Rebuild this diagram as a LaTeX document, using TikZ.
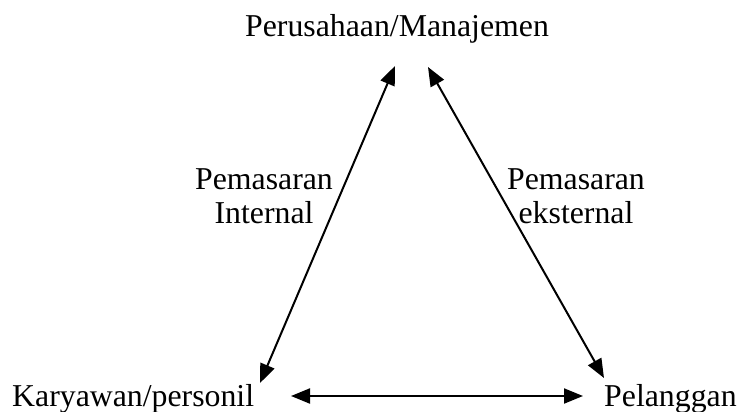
\documentclass[tikz,border=0pt]{standalone}
\usepackage{fontspec}
\setmainfont{Liberation Serif}
\usetikzlibrary{arrows.meta}
\begin{document}
\begin{tikzpicture}[x=1pt,y=-1pt,
  lbl/.style={font=\fontsize{31.8}{34}\selectfont, inner sep=0pt, anchor=base west},
  arr/.style={line width=2pt, {Triangle[length=19pt,width=15pt]}-{Triangle[length=19pt,width=15pt]}}]
\useasboundingbox (0,0) rectangle (742,412);
\node[lbl, anchor=base] (top) at (397,37) {Perusahaan/Manajemen};
\node[lbl] (left) at (12,406) {Karyawan/personil};
\node[lbl] (right) at (604,406) {Pelanggan};
\node[lbl, anchor=base] (li1) at (264,189) {Pemasaran};
\node[lbl, anchor=base] (li2) at (264,223) {Internal};
\node[lbl, anchor=base] (re1) at (576,189) {Pemasaran};
\node[lbl, anchor=base] (re2) at (576,223) {eksternal};
\coordinate (tl) at (395,66);
\coordinate (tr) at (428,67);
\coordinate (bl) at (260,383);
\coordinate (br) at (604,378);
\coordinate (hl) at (291,396);
\coordinate (hr) at (583,396);
\draw[arr] (tl) -- (bl);
\draw[arr] (tr) -- (br);
\draw[arr] (hl) -- (hr);
\end{tikzpicture}
\end{document}
